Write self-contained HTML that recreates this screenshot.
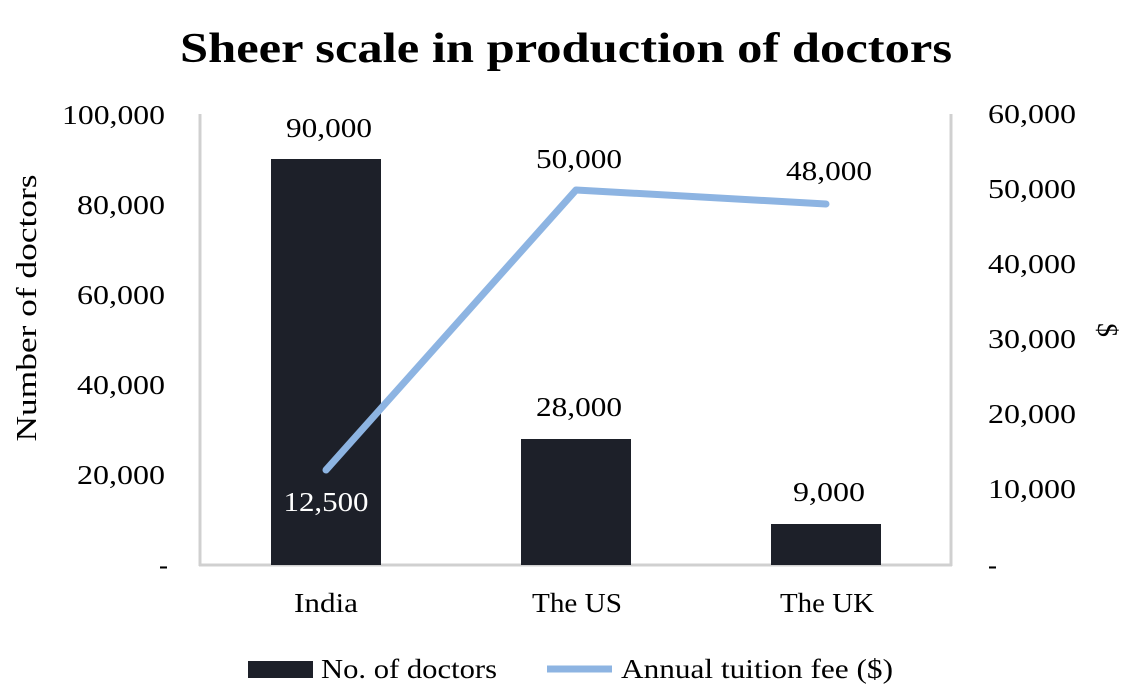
<!DOCTYPE html>
<html><head><meta charset="utf-8"><style>
html,body{margin:0;padding:0;background:#fff;}
svg{display:block;font-family:"Liberation Serif","DejaVu Serif",serif;}
</style></head><body>
<svg width="1144" height="692" viewBox="0 0 1144 692">
<text x="180" y="62" font-size="42" font-weight="bold" fill="#000" textLength="772" lengthAdjust="spacingAndGlyphs">Sheer scale in production of doctors</text>
<g stroke="#d0d0d0" stroke-width="3" fill="none">
<line x1="200" y1="114" x2="200" y2="566"/>
<line x1="951" y1="114" x2="951" y2="566"/>
<line x1="199" y1="565" x2="952" y2="565"/>
</g>
<g fill="#1d2029">
<rect x="271" y="159" width="110" height="406"/>
<rect x="521" y="439" width="110" height="126"/>
<rect x="771" y="524" width="110" height="41"/>
</g>
<polyline points="326,470 576,190 826,204" fill="none" stroke="#8db4e2" stroke-width="7" stroke-linecap="round" stroke-linejoin="round"/>
<g font-size="27" fill="#000" lengthAdjust="spacingAndGlyphs">
<text x="62" y="124" textLength="103" lengthAdjust="spacingAndGlyphs">100,000</text>
<text x="77" y="214" textLength="88" lengthAdjust="spacingAndGlyphs">80,000</text>
<text x="77" y="304" textLength="88" lengthAdjust="spacingAndGlyphs">60,000</text>
<text x="77" y="394" textLength="88" lengthAdjust="spacingAndGlyphs">40,000</text>
<text x="77" y="484" textLength="88" lengthAdjust="spacingAndGlyphs">20,000</text>
<text x="159" y="574">-</text>
<text x="988" y="123" textLength="88" lengthAdjust="spacingAndGlyphs">60,000</text>
<text x="988" y="198" textLength="88" lengthAdjust="spacingAndGlyphs">50,000</text>
<text x="988" y="273" textLength="88" lengthAdjust="spacingAndGlyphs">40,000</text>
<text x="988" y="348" textLength="88" lengthAdjust="spacingAndGlyphs">30,000</text>
<text x="988" y="423" textLength="88" lengthAdjust="spacingAndGlyphs">20,000</text>
<text x="988" y="498" textLength="88" lengthAdjust="spacingAndGlyphs">10,000</text>
<text x="988" y="574">-</text>
</g>
<text transform="translate(36,308) rotate(-90)" font-size="28" text-anchor="middle" fill="#000" textLength="267" lengthAdjust="spacingAndGlyphs">Number of doctors</text>
<text transform="translate(1098,330) rotate(90)" font-size="28" text-anchor="middle" fill="#000">$</text>
<g font-size="27" fill="#000" text-anchor="middle">
<text x="329" y="137" textLength="86" lengthAdjust="spacingAndGlyphs">90,000</text>
<text x="579" y="416" textLength="86" lengthAdjust="spacingAndGlyphs">28,000</text>
<text x="829" y="501" textLength="72" lengthAdjust="spacingAndGlyphs">9,000</text>
<text x="579" y="168" textLength="86" lengthAdjust="spacingAndGlyphs">50,000</text>
<text x="829" y="180" textLength="86" lengthAdjust="spacingAndGlyphs">48,000</text>
<text x="326" y="511" fill="#fff" textLength="85" lengthAdjust="spacingAndGlyphs">12,500</text>
<text x="326" y="612" textLength="64" lengthAdjust="spacingAndGlyphs">India</text>
<text x="577" y="612" textLength="90" lengthAdjust="spacingAndGlyphs">The US</text>
<text x="827" y="612" textLength="94" lengthAdjust="spacingAndGlyphs">The UK</text>
</g>
<rect x="248" y="661" width="65" height="17" fill="#1d2029"/>
<text x="321" y="678" font-size="27" fill="#000" textLength="176" lengthAdjust="spacingAndGlyphs">No. of doctors</text>
<line x1="547" y1="669" x2="612" y2="669" stroke="#8db4e2" stroke-width="7"/>
<text x="621" y="678" font-size="27" fill="#000" textLength="272" lengthAdjust="spacingAndGlyphs">Annual tuition fee ($)</text>
</svg>
</body></html>
